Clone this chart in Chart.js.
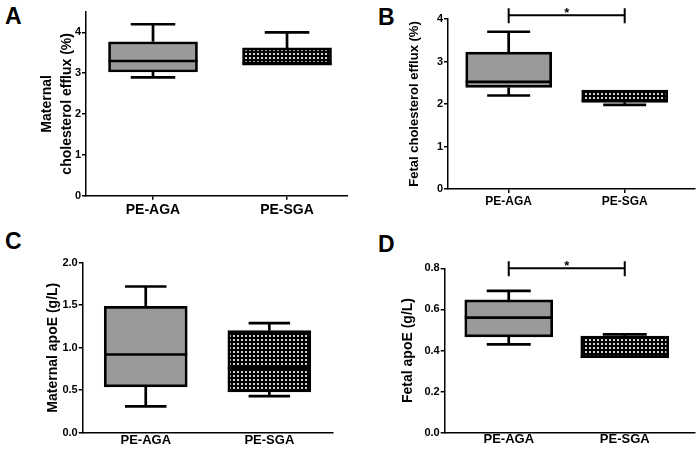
<!DOCTYPE html>
<html>
<head>
<meta charset="utf-8">
<script src="https://cdn.jsdelivr.net/npm/chart.js@4.4.0/dist/chart.umd.min.js"></script>
<style>
  body { margin: 0; width: 697px; height: 452px; background: #fff; position: relative; overflow: hidden;
         font-family: "Liberation Sans", Arial, sans-serif; }
  canvas { position: absolute; }
  .letter { position: absolute; font-weight: bold; font-size: 23px; line-height: 1; color: #000; }
</style>
</head>
<body>
<div class="letter" style="left:5px;top:5px">A</div>
<div class="letter" style="left:378px;top:6px">B</div>
<div class="letter" style="left:5px;top:230px">C</div>
<div class="letter" style="left:378px;top:233px">D</div>
<canvas id="chartA" width="348" height="226" style="left:0;top:0"></canvas>
<canvas id="chartB" width="349" height="226" style="left:348px;top:0"></canvas>
<canvas id="chartC" width="348" height="226" style="left:0;top:226px"></canvas>
<canvas id="chartD" width="349" height="226" style="left:348px;top:226px"></canvas>
<script>
const categories = ['PE-AGA', 'PE-SGA'];
const positions = [1, 2];

// A: maternal cholesterol efflux (%)
const matEffluxMin = [2.9, 3.2];
const matEffluxQ1 = [3.03, 3.2];
const matEffluxMed = [3.3, 3.25];
const matEffluxQ3 = [3.77, 3.62];
const matEffluxMax = [4.2, 4.0];
const matEffluxTicks = [0, 1, 2, 3, 4];

// B: fetal cholesterol efflux (%)
const fetEffluxMin = [2.2, 1.98];
const fetEffluxQ1 = [2.39, 2.04];
const fetEffluxMed = [2.52, 2.08];
const fetEffluxQ3 = [3.22, 2.33];
const fetEffluxMax = [3.7, 2.33];
const fetEffluxTicks = [0, 1, 2, 3, 4];
const fetEffluxSig = 4.09;

// C: maternal apoE (g/L)
const matApoeMin = [0.31, 0.43];
const matApoeQ1 = [0.54, 0.48];
const matApoeMed = [0.92, 0.757];
const matApoeQ3 = [1.487, 1.2];
const matApoeMax = [1.72, 1.29];
const matApoeTicks = [0, 0.5, 1.0, 1.5, 2.0];

// D: fetal apoE (g/L)
const fetApoeMin = [0.43, 0.364];
const fetApoeQ1 = [0.466, 0.364];
const fetApoeMed = [0.56, 0.37];
const fetApoeQ3 = [0.646, 0.47];
const fetApoeMax = [0.69, 0.478];
const fetApoeTicks = [0, 0.2, 0.4, 0.6, 0.8];
const fetApoeSig = 0.8;

const FONT = '"Liberation Sans", Arial, sans-serif';

// dotted black fill used for the SGA boxes
const tile = document.createElement('canvas');
tile.width = 4; tile.height = 4;
const tg = tile.getContext('2d');
tg.fillStyle = '#000'; tg.fillRect(0, 0, 4, 4);
tg.fillStyle = '#cfcfcf'; tg.fillRect(1, 1, 2, 2);

// whiskers, medians and significance bracket
const boxPlugin = {
  id: 'boxes',
  afterDatasetsDraw(chart, args, opts) {
    const { ctx, scales: { x, y } } = chart;
    ctx.save();
    ctx.strokeStyle = '#000';
    ctx.lineWidth = 2.7;
    positions.forEach((pos, i) => {
      const cx = x.getPixelForValue(pos);
      const half = opts.boxWidth / 2;
      const cap = opts.boxWidth / 4;
      ctx.beginPath();
      // upper whisker
      if (opts.max[i] > opts.q3[i]) {
        ctx.moveTo(cx, y.getPixelForValue(opts.q3[i]));
        ctx.lineTo(cx, y.getPixelForValue(opts.max[i]));
        ctx.moveTo(cx - cap, y.getPixelForValue(opts.max[i]));
        ctx.lineTo(cx + cap, y.getPixelForValue(opts.max[i]));
      }
      // lower whisker
      if (opts.min[i] < opts.q1[i]) {
        ctx.moveTo(cx, y.getPixelForValue(opts.q1[i]));
        ctx.lineTo(cx, y.getPixelForValue(opts.min[i]));
        ctx.moveTo(cx - cap, y.getPixelForValue(opts.min[i]));
        ctx.lineTo(cx + cap, y.getPixelForValue(opts.min[i]));
      }
      // median
      ctx.moveTo(cx - half, y.getPixelForValue(opts.med[i]));
      ctx.lineTo(cx + half, y.getPixelForValue(opts.med[i]));
      ctx.stroke();
    });
    if (opts.sig !== undefined) {
      const x1 = x.getPixelForValue(positions[0]);
      const x2 = x.getPixelForValue(positions[1]);
      const sy = y.getPixelForValue(opts.sig);
      ctx.lineWidth = 2;
      ctx.beginPath();
      ctx.moveTo(x1, sy); ctx.lineTo(x2, sy);
      ctx.moveTo(x1, sy - 7); ctx.lineTo(x1, sy + 8);
      ctx.moveTo(x2, sy - 7); ctx.lineTo(x2, sy + 8);
      ctx.stroke();
      ctx.fillStyle = '#000';
      ctx.font = 'bold 13px ' + FONT;
      ctx.textAlign = 'center';
      ctx.textBaseline = 'alphabetic';
      ctx.fillText('*', (x1 + x2) / 2, sy + 2);
    }
    ctx.restore();
  }
};

function makePanel(id, p) {
  const ctx = document.getElementById(id).getContext('2d');
  const pattern = ctx.createPattern(tile, 'repeat');
  return new Chart(ctx, {
    type: 'bar',
    data: {
      datasets: [{
        data: positions.map((x, i) => ({ x: x, y: [p.q1[i], p.q3[i]] })),
        backgroundColor: ['#9a9a9a', pattern],
        borderColor: '#000',
        borderWidth: 2.7,
        borderSkipped: false,
        barThickness: p.boxWidth
      }]
    },
    options: {
      responsive: false,
      animation: false,
      layout: { padding: { left: p.padLeft, top: p.top, right: p.padRight, bottom: 0 } },
      plugins: {
        legend: { display: false },
        tooltip: { enabled: false },
        boxes: { boxWidth: p.boxWidth, min: p.min, q1: p.q1, med: p.med, q3: p.q3, max: p.max, sig: p.sig }
      },
      scales: {
        x: {
          type: 'linear',
          min: p.xMin,
          max: p.xMax,
          offset: false,
          afterBuildTicks: s => { s.ticks = positions.map(v => ({ value: v })); },
          afterFit: s => { s.height = p.xHeight; },
          grid: { display: true, offset: false, drawOnChartArea: false, drawTicks: p.xTickLen > 0, tickLength: p.xTickLen, color: '#000', lineWidth: 1.5 },
          border: { display: true, color: '#000', width: 1.5 },
          ticks: {
            color: '#000',
            padding: p.xPad,
            maxRotation: 0,
            autoSkip: false,
            font: { family: FONT, weight: 'bold', size: p.xFont },
            callback: (v, i) => categories[i]
          }
        },
        y: {
          min: 0,
          max: p.yMax,
          afterBuildTicks: s => { s.ticks = p.ticks.map(v => ({ value: v })); },
          afterFit: s => { s.width = p.yWidth; },
          grid: { display: true, drawOnChartArea: false, drawTicks: true, tickLength: 4, color: '#000', lineWidth: 1.5 },
          border: { display: true, color: '#000', width: 1.5 },
          ticks: {
            color: '#000',
            padding: 1,
            font: { family: FONT, weight: 'bold', size: 11 },
            callback: v => p.decimals ? v.toFixed(p.decimals) : String(v)
          },
          title: {
            display: true,
            text: p.title,
            color: '#000',
            padding: 0,
            font: { family: FONT, weight: 'bold', size: p.titleFont, lineHeight: p.titleLH }
          }
        }
      }
    },
    plugins: [boxPlugin]
  });
}

makePanel('chartA', {
  min: matEffluxMin, q1: matEffluxQ1, med: matEffluxMed, q3: matEffluxQ3, max: matEffluxMax,
  ticks: matEffluxTicks, decimals: 0, yMax: 4.5,
  title: ['Maternal', 'cholesterol efflux (%)'], titleFont: 14, titleLH: 1.43,
  padLeft: 36.7, yWidth: 49.3, top: 12, xHeight: 30.3, padRight: 0,
  xMin: 0.5, xMax: 2.455, boxWidth: 89, xFont: 14, xPad: 2, xTickLen: 4
});

makePanel('chartB', {
  min: fetEffluxMin, q1: fetEffluxQ1, med: fetEffluxMed, q3: fetEffluxQ3, max: fetEffluxMax,
  ticks: fetEffluxTicks, decimals: 0, yMax: 4, sig: fetEffluxSig,
  title: 'Fetal cholesterol efflux (%)', titleFont: 13, titleLH: 1.2,
  padLeft: 58.9, yWidth: 41.1, top: 19, xHeight: 37, padRight: 2,
  xMin: 0.477, xMax: 2.606, boxWidth: 86, xFont: 12, xPad: 1, xTickLen: 4
});

makePanel('chartC', {
  min: matApoeMin, q1: matApoeQ1, med: matApoeMed, q3: matApoeQ3, max: matApoeMax,
  ticks: matApoeTicks, decimals: 1, yMax: 2,
  title: 'Maternal apoE (g/L)', titleFont: 14, titleLH: 1.2,
  padLeft: 44.9, yWidth: 37.8, top: 36.7, xHeight: 19.3, padRight: 15,
  xMin: 0.49, xMax: 2.515, boxWidth: 83, xFont: 13, xPad: 0, xTickLen: 0
});

makePanel('chartD', {
  min: fetApoeMin, q1: fetApoeQ1, med: fetApoeMed, q3: fetApoeQ3, max: fetApoeMax,
  ticks: fetApoeTicks, decimals: 1, yMax: 0.8, sig: fetApoeSig,
  title: 'Fetal apoE (g/L)', titleFont: 14, titleLH: 1.2,
  padLeft: 51.6, yWidth: 45.1, top: 42.3, xHeight: 19.3, padRight: 2.3,
  xMin: 0.448, xMax: 2.603, boxWidth: 88, xFont: 13, xPad: -1, xTickLen: 0
});
</script>
</body>
</html>
